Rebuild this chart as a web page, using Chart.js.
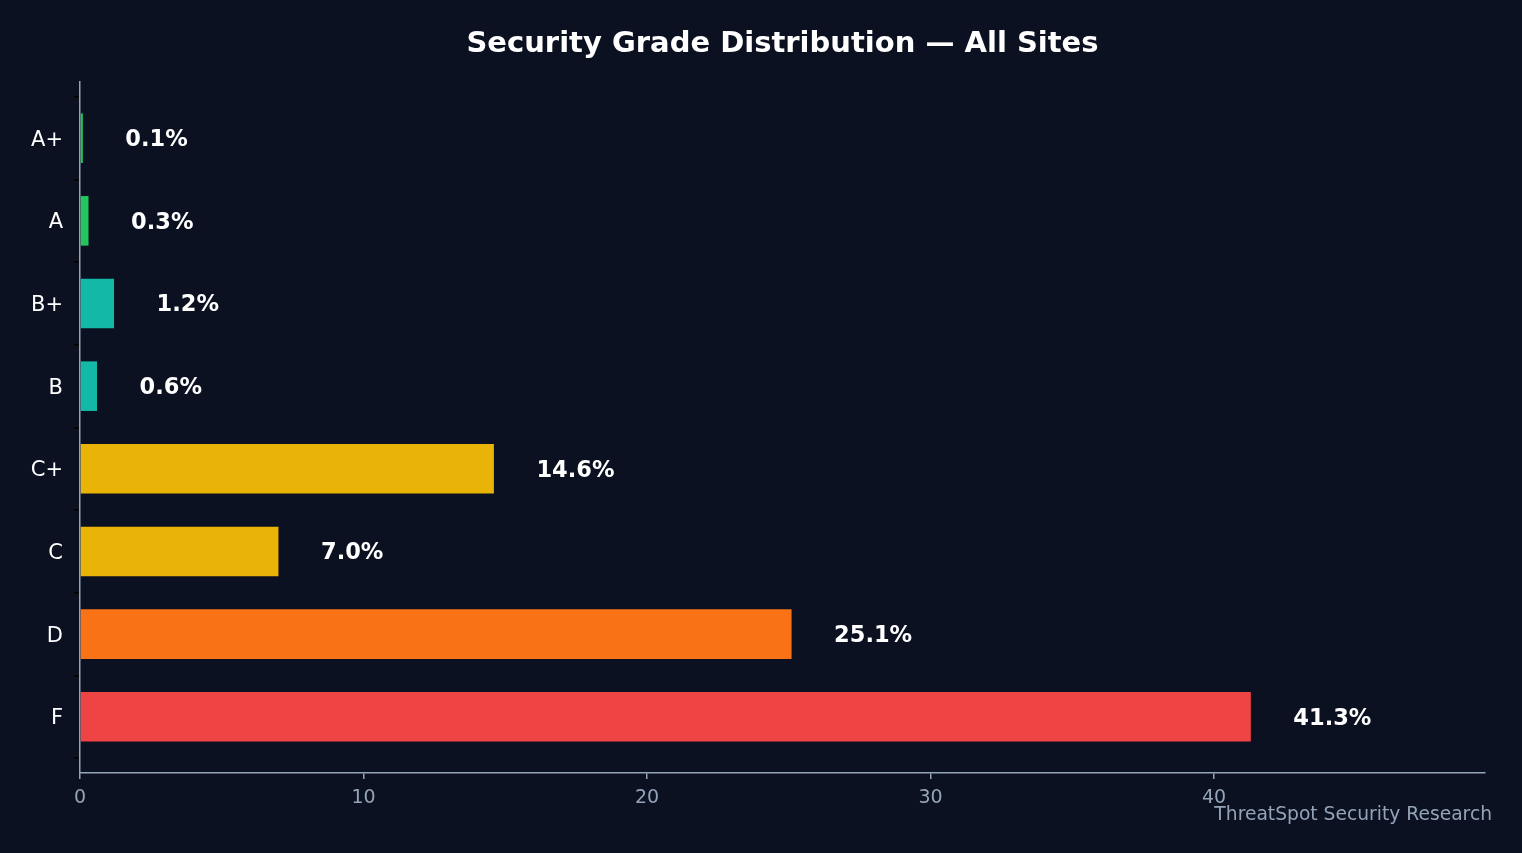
<!DOCTYPE html>
<html>
<head>
<meta charset="utf-8">
<script src="https://cdn.jsdelivr.net/npm/chart.js@4.4.1/dist/chart.umd.min.js"></script>
<style>
  html, body { margin: 0; padding: 0; background: #0b1120; }
  #wrap { width: 1522px; height: 853px; }
</style>
</head>
<body>
<div id="wrap"><canvas id="chart" width="1522" height="853"></canvas></div>
<script>
// Chart data
const grades = ['A+', 'A', 'B+', 'B', 'C+', 'C', 'D', 'F'];
const percents = [0.1, 0.3, 1.2, 0.6, 14.6, 7.0, 25.1, 41.3];
const barColors = ['#22c55e', '#22c55e', '#14b8a6', '#14b8a6', '#eab308', '#eab308', '#f97316', '#ef4444'];
const xTicks = [0, 10, 20, 30, 40];

const titleText = 'Security Grade Distribution \u2014 All Sites';
const footerText = 'ThreatSpot Security Research';

const axisColor = '#94a3b8';
const font = 'DejaVu Sans';

// Draws the title, the value labels next to each bar and the footer note
const textPlugin = {
    id: 'textPlugin',
    afterDatasetsDraw(chart) {
        const ctx = chart.ctx;
        const xs = chart.scales.x;
        const ys = chart.scales.y;
        ctx.save();

        ctx.fillStyle = '#ffffff';
        ctx.font = 'bold 29px "' + font + '"';
        ctx.textAlign = 'center';
        ctx.textBaseline = 'middle';
        ctx.fillText(titleText, (chart.chartArea.left + chart.chartArea.right) / 2, 44);

        ctx.font = 'bold 22.5px "' + font + '"';
        ctx.textAlign = 'left';
        percents.forEach((v, i) => {
            ctx.fillText(v.toFixed(1) + '%', xs.getPixelForValue(v + 1.5), ys.getPixelForValue(i) + 2);
        });

        ctx.fillStyle = axisColor;
        ctx.font = '18.7px "' + font + '"';
        ctx.textAlign = 'right';
        ctx.fillText(footerText, 1492, 815);
        ctx.restore();
    }
};

const ctx = document.getElementById('chart').getContext('2d');
new Chart(ctx, {
    type: 'bar',
    data: {
        datasets: [{
            data: percents.map((v, i) => ({ x: v, y: i })),
            backgroundColor: barColors,
            borderWidth: 0,
            barPercentage: 0.6,
            categoryPercentage: 1.0,
        }],
    },
    options: {
        indexAxis: 'y',
        responsive: false,
        animation: false,
        layout: { padding: { top: 82, right: 37, left: 0, bottom: 0 } },
        plugins: {
            legend: { display: false },
            tooltip: { enabled: false },
        },
        scales: {
            x: {
                type: 'linear',
                min: 0,
                max: 41.3 * 1.2,
                afterBuildTicks: scale => { scale.ticks = xTicks.map(v => ({ value: v })); },
                afterFit: scale => { scale.height = 80; },
                grid: { display: true, drawOnChartArea: false, drawTicks: true, tickLength: 6, tickColor: axisColor, lineWidth: 1.5 },
                border: { display: true, color: axisColor, width: 1.5 },
                ticks: { color: axisColor, font: { family: font, size: 19 }, padding: 8, maxRotation: 0 },
            },
            y: {
                type: 'linear',
                reverse: true,
                offset: false,
                min: -0.68,
                max: 7.68,
                afterBuildTicks: scale => { scale.ticks = grades.map((g, i) => ({ value: i })); },
                afterFit: scale => { scale.width = 80; },
                grid: { display: true, drawOnChartArea: false, drawTicks: true, tickLength: 6, tickColor: '#000000', lineWidth: 1.5 },
                border: { display: true, color: axisColor, width: 1.5 },
                ticks: {
                    color: '#ffffff',
                    font: { family: font, size: 21 },
                    padding: 11,
                    labelOffset: 2,
                    callback: v => grades[v],
                },
            },
        },
    },
    plugins: [textPlugin],
});
</script>
</body>
</html>
